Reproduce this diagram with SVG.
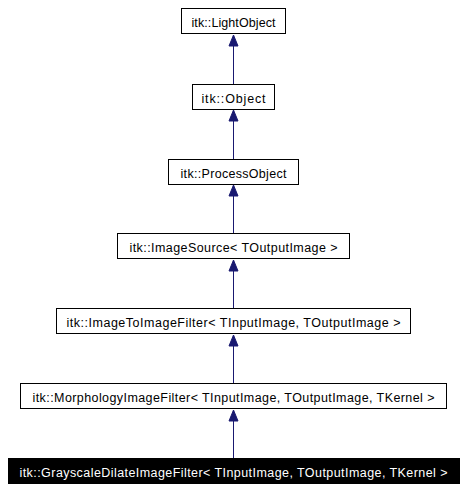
<svg xmlns="http://www.w3.org/2000/svg" width="466" height="490" viewBox="0 0 466 490">
<style>
.n rect{fill:#fff;stroke:#000;stroke-width:1}
.n text{font-family:"Liberation Sans",Arial,sans-serif;font-size:12.5px;text-anchor:middle;fill:#000}
#n7 rect{fill:#000}
#n7 text{fill:#fff}
.e{stroke:#191970;stroke-width:1;fill:none}
.h{fill:#191970;stroke:#191970}
</style>
<rect width="466" height="490" fill="#fff"/>
<g id="edges">
<line class="e" x1="233.5" y1="45" x2="233.5" y2="84"/>
<polygon class="h" points="233.5,35 229,46 238,46"/>
<line class="e" x1="233.5" y1="120" x2="233.5" y2="159"/>
<polygon class="h" points="233.5,110 229,121 238,121"/>
<line class="e" x1="233.5" y1="195" x2="233.5" y2="234"/>
<polygon class="h" points="233.5,185 229,196 238,196"/>
<line class="e" x1="233.5" y1="270" x2="233.5" y2="309"/>
<polygon class="h" points="233.5,260 229,271 238,271"/>
<line class="e" x1="233.5" y1="345" x2="233.5" y2="384"/>
<polygon class="h" points="233.5,335 229,346 238,346"/>
<line class="e" x1="233.5" y1="420" x2="233.5" y2="459"/>
<polygon class="h" points="233.5,410 229,421 238,421"/>
</g>
<g id="n1" class="n"><rect x="181.5" y="8.5" width="104" height="25"/><text x="233.5" y="27" textLength="84" lengthAdjust="spacing">itk::LightObject</text></g>
<g id="n2" class="n"><rect x="192.5" y="84.5" width="82" height="25"/><text x="233.5" y="103" textLength="64" lengthAdjust="spacing">itk::Object</text></g>
<g id="n3" class="n"><rect x="168.5" y="159.5" width="130" height="25"/><text x="233.5" y="178" textLength="106" lengthAdjust="spacing">itk::ProcessObject</text></g>
<g id="n4" class="n"><rect x="117.5" y="233.5" width="232" height="25"/><text x="233.5" y="252" textLength="208" lengthAdjust="spacing">itk::ImageSource&lt; TOutputImage &gt;</text></g>
<g id="n5" class="n"><rect x="56.5" y="308.5" width="354" height="25"/><text x="233.5" y="327" textLength="334" lengthAdjust="spacing">itk::ImageToImageFilter&lt; TInputImage, TOutputImage &gt;</text></g>
<g id="n6" class="n"><rect x="20.5" y="383.5" width="426" height="25"/><text x="233.5" y="402" textLength="402" lengthAdjust="spacing">itk::MorphologyImageFilter&lt; TInputImage, TOutputImage, TKernel &gt;</text></g>
<g id="n7" class="n"><rect x="8.5" y="458.5" width="451" height="25"/><text x="233.5" y="477" textLength="428" lengthAdjust="spacing">itk::GrayscaleDilateImageFilter&lt; TInputImage, TOutputImage, TKernel &gt;</text></g>
</svg>
